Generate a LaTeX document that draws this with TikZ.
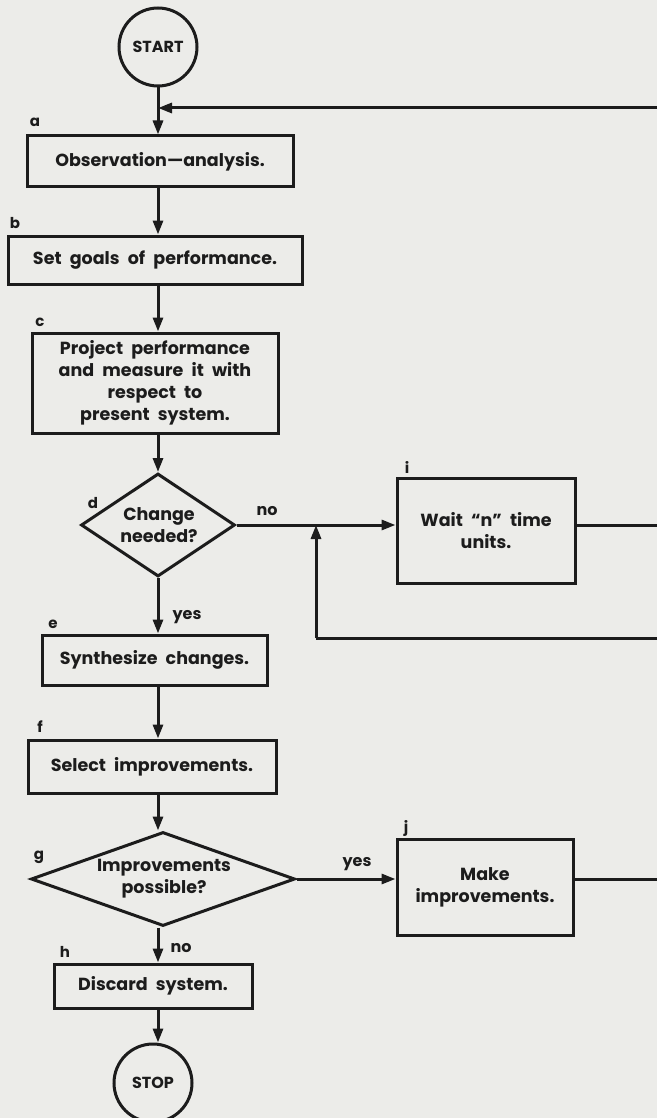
\documentclass[tikz,border=0pt]{standalone}
\usepackage{fontspec}
\setmainfont{Poppins}[WordSpace=2.2]
\usetikzlibrary{shapes.geometric,arrows.meta}
\definecolor{paper}{RGB}{236,236,233}
\definecolor{ink}{RGB}{28,28,28}
\begin{document}
\begin{tikzpicture}[x=1pt,y=-1pt,
  line/.style={draw=ink, line width=3pt},
  arr/.style={line, -{Triangle[length=14pt,width=10pt]}},
  txt/.style={font=\fontsize{17.5}{22}\selectfont\bfseries, text=ink, align=center},
  box/.style={line, rectangle, inner sep=0pt, txt},
  dec/.style={line, diamond, inner sep=0pt},
  term/.style={line, circle, inner sep=0pt, minimum size=78pt, font=\fontsize{16}{18}\selectfont\bfseries, text=ink},
  tag/.style={font=\fontsize{15}{16}\selectfont\bfseries, text=ink, inner sep=0pt},
  ans/.style={font=\fontsize{16}{17}\selectfont\bfseries, text=ink, inner sep=0pt}]
\fill[paper] (0,0) rectangle (657,1118);
\useasboundingbox (0,0) rectangle (657,1118);

% nodes
\node[term] (start) at (158,47) {START};
\node[box, minimum width=266pt, minimum height=51pt] (a) at (160,161.5) {Observation---analysis.};
\node[box, minimum width=294pt, minimum height=48pt] (b) at (155,260) {Set goals of performance.};
\node[box, minimum width=246pt, minimum height=100pt] (c) at (155,383) {Project performance\\and measure it with\\respect to\\present system.};
\node[dec, minimum width=154pt, minimum height=103pt] (d) at (158,525) {};
\node[txt] (dt) at (159,525) {Change\\needed?};
\node[box, minimum width=178pt, minimum height=105pt] (i) at (486,530.5) {Wait ``n'' time\\units.};
\node[box, minimum width=225pt, minimum height=50pt] (e) at (154.5,660) {Synthesize changes.};
\node[box, minimum width=248pt, minimum height=53pt] (f) at (152,766.5) {Select improvements.};
\node[dec, minimum width=264pt, minimum height=94pt] (g) at (163,879) {};
\node[txt] (gt) at (164,879) {Improvements\\possible?};
\node[box, minimum width=176pt, minimum height=96pt] (j) at (485,887) {Make\\improvements.};
\node[box, minimum width=198pt, minimum height=44pt] (h) at (153,986) {Discard system.};
\node[term] (stop) at (153,1083) {STOP};

% letter tags
\node[tag] (ta) at (35,122) {a};
\node[tag] (tb) at (15,223) {b};
\node[tag] (tc) at (40,322) {c};
\node[tag] (td) at (93,503) {d};
\node[tag] (te) at (53,624) {e};
\node[tag] (tf) at (40,727) {f};
\node[tag] (tg) at (39,857) {g};
\node[tag] (th) at (65,952) {h};
\node[tag] (ti) at (407,467) {i};
\node[tag] (tj) at (406,828) {j};

% coordinates
\coordinate (fbR) at (657,108);
\coordinate (fbJ) at (158,108);
\coordinate (lpR) at (657,638);
\coordinate (lpL) at (316,638);
\coordinate (jn) at (lpL |- d.east);

% connectors
\draw[arr] (start) -- (start |- a.north);
\draw[arr] (fbR) -- (fbJ);
\draw[arr] (start |- a.south) -- (start |- b.north);
\draw[arr] (start |- b.south) -- (start |- c.north);
\draw[arr] (start |- c.south) -- (d.north);
\draw[arr] (d.south) -- (d.south |- e.north);
\draw[line] (d.east) -- (jn);
\draw[arr] (jn) -- (i.west |- jn);
\draw[line] (lpR) -- (lpL);
\draw[arr] (lpL) -- (jn);
\draw[line] (i.east |- jn) -- (fbR |- jn);
\draw[arr] (d.south |- e.south) -- (d.south |- f.north);
\draw[arr] (d.south |- f.south) -- (d.south |- g.north);
\draw[arr] (g.east) -- (j.west |- g.east);
\draw[line] (j.east |- g.east) -- (fbR |- g.east);
\draw[arr] (d.south |- g.south) -- (d.south |- h.north);
\draw[arr] (d.south |- h.south) -- (d.south |- stop.north);

% answers
\node[ans] (no1) at (267,511) {no};
\node[ans] (yes1) at (187,617) {yes};
\node[ans] (yes2) at (357,864) {yes};
\node[ans] (no2) at (181,948) {no};
\end{tikzpicture}
\end{document}
